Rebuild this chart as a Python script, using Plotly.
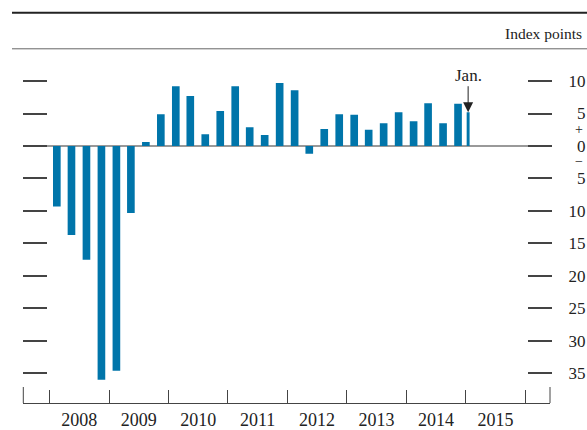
import plotly.graph_objects as go

# ---- data ----
quarter_dates = [
    "2008-02-15", "2008-05-15", "2008-08-15", "2008-11-15",
    "2009-02-15", "2009-05-15", "2009-08-15", "2009-11-15",
    "2010-02-15", "2010-05-15", "2010-08-15", "2010-11-15",
    "2011-02-15", "2011-05-15", "2011-08-15", "2011-11-15",
    "2012-02-15", "2012-05-15", "2012-08-15", "2012-11-15",
    "2013-02-15", "2013-05-15", "2013-08-15", "2013-11-15",
    "2014-02-15", "2014-05-15", "2014-08-15", "2014-11-15",
]
quarter_values = [
    -9.3, -13.7, -17.5, -36.0,
    -34.6, -10.3, 0.6, 4.9,
    9.2, 7.7, 1.8, 5.4,
    9.2, 2.9, 1.7, 9.7,
    8.6, -1.2, 2.6, 4.9,
    4.8, 2.5, 3.5, 5.2,
    3.8, 6.6, 3.5, 6.5,
]
month_dates = ["2015-01-16"]
month_values = [5.2]

tick_values = [10, 5, 0, -5, -10, -15, -20, -25, -30, -35]
tick_labels = ["10", "5", "0", "5", "10", "15", "20", "25", "30", "35"]

# ---- layout helpers ----
W, H = 587, 430
FONT = "Liberation Serif"
DAY = 86400000

def px_x(p):
    return p / W

def px_y(p):
    return 1 - p / H

y_range = [-39.57, 14.01]
y_domain = [px_y(403), px_y(55)]

fig = go.Figure()
fig.add_trace(go.Bar(x=quarter_dates, y=quarter_values, width=[47 * DAY] * len(quarter_values),
                     marker=dict(color="#0075AA", line=dict(width=0)), hoverinfo="skip"))
fig.add_trace(go.Bar(x=month_dates, y=month_values, width=[18 * DAY] * len(month_values),
                     marker=dict(color="#0075AA", line=dict(width=0)), hoverinfo="skip"))
for ya in ["y2", "y3", "y4"]:
    fig.add_trace(go.Scatter(x=quarter_dates, y=quarter_values, yaxis=ya, mode="markers",
                             marker=dict(opacity=0), hoverinfo="skip", showlegend=False))

fig.update_layout(
    width=W, height=H,
    margin=dict(l=0, r=0, t=0, b=0),
    paper_bgcolor="white", plot_bgcolor="white",
    showlegend=False, barmode="overlay",
    font=dict(family=FONT, size=17, color="#222"),
    xaxis=dict(
        type="date", domain=[px_x(23.3), px_x(550)],
        range=["2007-07-24", "2016-06-02"],
        tick0="2008-01-01", dtick="M12", tickformat="%Y", ticklabelmode="period",
        ticks="inside", ticklen=13, tickwidth=1, tickcolor="#444",
        showline=True, linecolor="#444", linewidth=1,
        showgrid=False, zeroline=False,
        tickfont=dict(family=FONT, size=18, color="#222"),
    ),
    yaxis=dict(
        domain=y_domain, range=y_range, anchor="x",
        showgrid=False, showticklabels=False, ticks="",
        zeroline=True, zerolinecolor="#999", zerolinewidth=2,
    ),
    yaxis2=dict(
        domain=y_domain, range=y_range, overlaying="y", anchor="free", side="left",
        position=px_x(47.3), tickmode="array", tickvals=tick_values,
        ticks="outside", ticklen=24, tickwidth=1.5, tickcolor="#444",
        showticklabels=False, showgrid=False, zeroline=False, showline=False,
    ),
    yaxis3=dict(
        domain=y_domain, range=y_range, overlaying="y", anchor="free", side="right",
        position=px_x(527), tickmode="array", tickvals=tick_values,
        ticks="outside", ticklen=24, tickwidth=1.5, tickcolor="#444",
        showticklabels=False, showgrid=False, zeroline=False, showline=False,
    ),
    yaxis4=dict(
        domain=y_domain, range=y_range, overlaying="y", anchor="free", side="left",
        position=px_x(585.5), tickmode="array", tickvals=tick_values, ticktext=tick_labels,
        ticks="", showticklabels=True, showgrid=False, zeroline=False, showline=False,
        tickfont=dict(family=FONT, size=17, color="#222"),
    ),
    shapes=[
        dict(type="line", xref="paper", yref="paper", x0=px_x(12), x1=1, y0=px_y(12.8), y1=px_y(12.8),
             line=dict(color="#222", width=2)),
        dict(type="line", xref="paper", yref="paper", x0=px_x(12), x1=1, y0=px_y(48.8), y1=px_y(48.8),
             line=dict(color="#666", width=1)),
        dict(type="line", xref="x domain", yref="paper", x0=0, x1=0, y0=px_y(403), y1=px_y(387),
             line=dict(color="#444", width=1)),
        dict(type="line", xref="x domain", yref="paper", x0=1, x1=1, y0=px_y(403), y1=px_y(387),
             line=dict(color="#444", width=1)),
    ],
    annotations=[
        dict(text="Index points", xref="paper", yref="paper", x=px_x(584), y=px_y(33.3),
             xanchor="right", yanchor="middle", showarrow=False,
             font=dict(family=FONT, size=15.5, color="#222")),
        dict(text="+", xref="paper", yref="y", x=px_x(585), y=2.6,
             xanchor="right", yanchor="middle", showarrow=False,
             font=dict(family=FONT, size=14, color="#222")),
        dict(text="\u2212", xref="paper", yref="y", x=px_x(585), y=-2.4,
             xanchor="right", yanchor="middle", showarrow=False,
             font=dict(family=FONT, size=14, color="#222")),
        dict(text="Jan.", x=month_dates[0], y=month_values[0], xref="x", yref="y",
             showarrow=True, arrowhead=2, arrowsize=2, arrowwidth=1, arrowcolor="#222",
             ax=0, ay=-37, font=dict(family=FONT, size=17, color="#222")),
    ],
)

fig.write_html("out.html", config={"displayModeBar": False},
               post_script="document.body.style.margin='0px';")
